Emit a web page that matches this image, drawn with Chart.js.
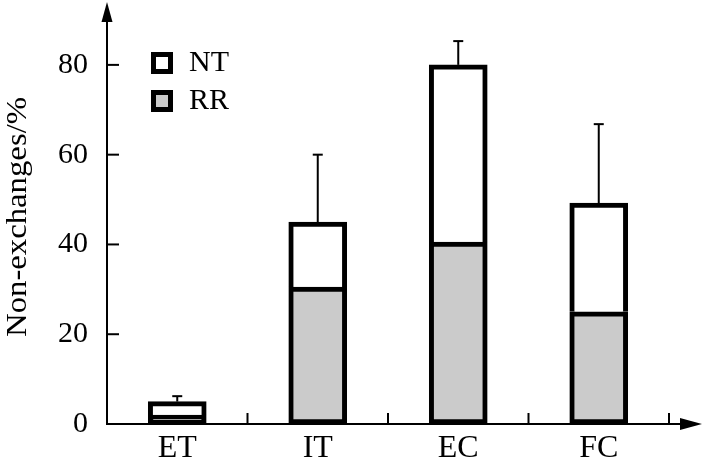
<!DOCTYPE html>
<html><head><meta charset="utf-8">
<script src="https://cdn.jsdelivr.net/npm/chart.js@4"></script>
<style>html,body{margin:0;padding:0;background:#fff}#w{width:703px;height:472px}</style>
</head><body><div id="w"><canvas id="c"></canvas></div>
<script>
const categories = ['ET', 'IT', 'EC', 'FC'];
const rrValues = [2, 30.5, 40.5, 25];
const ntValues = [3, 14.5, 39.5, 24.2];
const errValues = [1.2, 15, 5.3, 17.6];
const yTicks = [0, 20, 40, 60, 80];
const seriesNames = ['NT', 'RR'];

const FONT = "'Liberation Serif', 'Times New Roman', Times, serif";
const GRAY = '#cbcbcb';

const overlay = {
  id: 'overlay',
  afterDraw(chart) {
    const ctx = chart.ctx, xs = chart.scales.x, ys = chart.scales.y;
    const x0 = xs.left, y0 = ys.getPixelForValue(0);
    ctx.save();
    ctx.strokeStyle = '#000'; ctx.fillStyle = '#000'; ctx.lineWidth = 2;
    ctx.beginPath(); ctx.moveTo(x0, y0 + 1); ctx.lineTo(x0, 18); ctx.stroke();
    ctx.beginPath(); ctx.moveTo(x0, 2); ctx.lineTo(x0 - 5.5, 22); ctx.lineTo(x0 + 5.5, 22); ctx.closePath(); ctx.fill();
    ctx.beginPath(); ctx.moveTo(x0 - 1, y0); ctx.lineTo(686, y0); ctx.stroke();
    ctx.beginPath(); ctx.moveTo(702, y0); ctx.lineTo(680, y0 - 6); ctx.lineTo(680, y0 + 6); ctx.closePath(); ctx.fill();
    yTicks.forEach(v => {
      if (v === 0) return;
      const py = ys.getPixelForValue(v);
      ctx.beginPath(); ctx.moveTo(x0, py); ctx.lineTo(x0 + 12, py); ctx.stroke();
    });
    for (let i = 0; i < categories.length; i++) {
      const a = xs.getPixelForValue(i);
      const b = i + 1 < categories.length ? xs.getPixelForValue(i + 1) : 2 * a - xs.getPixelForValue(i - 1);
      const px = (a + b) / 2;
      ctx.beginPath(); ctx.moveTo(px, y0); ctx.lineTo(px, y0 - 11); ctx.stroke();
    }
    ctx.lineWidth = 2;
    categories.forEach((c, i) => {
      const px = xs.getPixelForValue(i);
      const total = rrValues[i] + ntValues[i];
      const pTop = ys.getPixelForValue(total);
      const pErr = ys.getPixelForValue(total + errValues[i]);
      ctx.beginPath(); ctx.moveTo(px, pTop); ctx.lineTo(px, pErr); ctx.stroke();
      ctx.beginPath(); ctx.moveTo(px - 5, pErr); ctx.lineTo(px + 5, pErr); ctx.stroke();
    });
    const fills = ['#fff', GRAY];
    ctx.font = '30px ' + FONT; ctx.textBaseline = 'middle'; ctx.textAlign = 'left';
    seriesNames.forEach((n, k) => {
      const by = 52 + k * 38;
      ctx.fillStyle = fills[k]; ctx.fillRect(151, by, 22, 22);
      ctx.lineWidth = 5; ctx.strokeStyle = '#000'; ctx.strokeRect(153.5, by + 2.5, 17, 17);
      ctx.fillStyle = '#000'; ctx.fillText(n, 189, by + 11);
    });
    ctx.save();
    ctx.font = '29px ' + FONT;
    const w = ctx.measureText('Non-exchanges/%').width;
    ctx.translate(18, 217); ctx.rotate(-Math.PI / 2);
    ctx.scale(240 / w, 1);
    ctx.textAlign = 'center'; ctx.textBaseline = 'middle';
    ctx.fillText('Non-exchanges/%', 0, 0);
    ctx.restore();
    ctx.restore();
  }
};

function build() {
  new Chart(document.getElementById('c'), {
    type: 'bar',
    data: {
      labels: categories,
      datasets: [
        { label: 'RR', data: rrValues, backgroundColor: GRAY, borderColor: '#000', borderWidth: 5, borderSkipped: false, barThickness: 58 },
        { label: 'NT', data: ntValues, backgroundColor: '#fff', borderColor: '#000', borderWidth: 5, borderSkipped: 'bottom', barThickness: 58 }
      ]
    },
    options: {
      responsive: true, maintainAspectRatio: false, animation: false,
      layout: { padding: { top: 20, right: 34, left: 0, bottom: 0 } },
      plugins: { legend: { display: false }, tooltip: { enabled: false } },
      scales: {
        x: {
          stacked: true,
          grid: { display: false, drawTicks: false }, border: { display: false },
          ticks: { color: '#000', font: { family: FONT, size: 32 }, padding: 5 },
          afterFit(s) { s.height = 48; s.paddingLeft = 0; s.paddingRight = 0; }
        },
        y: {
          stacked: true, min: 0, max: 90,
          grid: { display: false, drawTicks: false }, border: { display: false },
          afterBuildTicks(s) { s.ticks = yTicks.map(v => ({ value: v })); },
          ticks: { color: '#000', font: { family: FONT, size: 30 }, padding: 19 },
          afterFit(s) { s.width = 107; s.paddingTop = 0; s.paddingBottom = 0; }
        }
      }
    },
    plugins: [overlay]
  });
}
Promise.all([
  document.fonts.load("30px 'Liberation Serif'"),
  document.fonts.load("30px 'Times New Roman'")
]).catch(() => {}).then(build);
</script></body></html>
